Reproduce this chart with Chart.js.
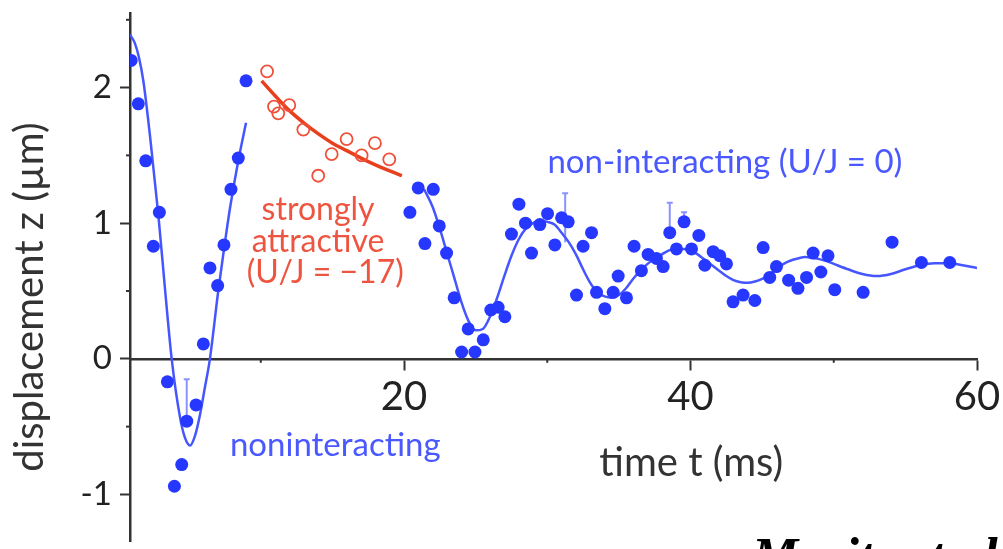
<!DOCTYPE html>
<html>
<head>
<meta charset="utf-8">
<title>displacement z vs time t</title>
<script src="https://cdn.jsdelivr.net/npm/chart.js@4.4.1/dist/chart.umd.min.js"></script>
<style>
  html, body { margin: 0; padding: 0; background: #fff; }
  #wrap { width: 1003px; height: 549px; }
</style>
</head>
<body>
<div id="wrap"><canvas id="c" width="1003" height="549"></canvas></div>
<script>
// 無交互作用的原子雲 (實心點)
const freeT = [0.95, 1.45, 1.97, 2.5, 2.92, 3.48, 3.97, 4.48, 4.83, 5.48, 5.99, 6.45, 6.99, 7.43, 7.92, 8.43, 8.97,
  20.41, 20.99, 21.46, 22.04, 22.46, 22.97, 23.5, 24.02, 24.48, 24.95, 25.53, 26.06, 26.57, 27.04, 27.5, 28.02,
  28.48, 28.9, 29.48, 30.02, 30.53, 31.0, 31.46, 32.04, 32.5, 33.09, 33.44, 34.02, 34.6, 34.95, 35.53, 36.06,
  36.57, 37.04, 37.62, 38.09, 38.55, 39.02, 39.55, 40.07, 40.58, 41.0, 41.58, 42.04, 42.51, 42.97, 43.67, 44.49,
  45.07, 45.53, 46.0, 46.85, 47.5, 48.1, 48.56, 49.1, 49.6, 50.07, 52.05, 54.07, 56.12, 58.1];
const freeZ = [2.20, 1.88, 1.46, 0.83, 1.08, -0.17, -0.94, -0.78, -0.46, -0.34, 0.11, 0.67, 0.54, 0.84, 1.25, 1.48, 2.05,
  1.08, 1.26, 0.85, 1.25, 0.98, 0.78, 0.45, 0.05, 0.22, 0.05, 0.14, 0.36, 0.38, 0.31, 0.92, 1.14,
  1.00, 0.78, 0.99, 1.07, 0.84, 1.04, 1.01, 0.47, 0.83, 0.93, 0.49, 0.37, 0.49, 0.61, 0.45, 0.83,
  0.65, 0.77, 0.74, 0.68, 0.93, 0.81, 1.01, 0.81, 0.91, 0.69, 0.79, 0.76, 0.70, 0.42, 0.47, 0.43,
  0.82, 0.60, 0.68, 0.58, 0.52, 0.60, 0.78, 0.64, 0.76, 0.51, 0.49, 0.86, 0.71, 0.71];

// 強吸引交互作用 U/J = -17 (空心圈)
const attrT = [10.44, 10.92, 11.22, 11.99, 12.97, 14.01, 14.95, 15.99, 17.04, 17.97, 18.97];
const attrZ = [2.12, 1.86, 1.81, 1.87, 1.69, 1.35, 1.51, 1.62, 1.50, 1.59, 1.47];

// 阻尼振盪擬合曲線，第一段
const fitAT = [0.87, 1.2, 1.5, 1.8, 2.27, 2.85, 3.31, 3.78, 4.36, 4.7, 5.06, 5.4, 5.76, 6.1, 6.45, 7.03, 7.5, 7.85, 8.43, 8.97];
const fitAZ = [2.39, 2.33, 2.22, 2.05, 1.64, 1.06, 0.52, 0.0, -0.43, -0.58, -0.64, -0.57, -0.41, -0.21, 0.0, 0.50, 0.86, 1.11, 1.46, 1.74];

// 擬合曲線，第二段
const fitBT = [21.4, 22, 22.5, 23, 23.5, 24, 24.5, 25, 25.5, 26, 26.5, 27, 27.5, 28, 28.5, 29, 29.5, 30, 30.5, 31,
  31.5, 32, 32.5, 33, 33.5, 34, 34.5, 35, 35.5, 36, 36.5, 37, 37.5, 38, 38.5, 39, 39.5, 40, 40.5, 41, 41.5, 42,
  42.5, 43, 43.5, 44, 44.5, 45, 45.5, 46, 46.5, 47, 47.5, 48, 48.5, 49, 49.5, 50, 51, 52, 53, 54, 55, 56, 57, 58, 59, 60];
const fitBZ = [1.25, 1.12, 0.96, 0.78, 0.60, 0.42, 0.28, 0.21, 0.22, 0.31, 0.45, 0.61, 0.76, 0.88, 0.96, 1.00, 1.02, 1.01, 0.99, 0.93,
  0.86, 0.77, 0.66, 0.56, 0.49, 0.46, 0.45, 0.47, 0.52, 0.59, 0.65, 0.70, 0.74, 0.77, 0.80, 0.81, 0.81, 0.80, 0.77, 0.73, 0.69, 0.65,
  0.61, 0.58, 0.565, 0.56, 0.57, 0.59, 0.62, 0.66, 0.70, 0.725, 0.74, 0.75, 0.745, 0.735, 0.72, 0.70, 0.66, 0.625, 0.61, 0.625, 0.66, 0.69, 0.705, 0.705, 0.69, 0.67];

// 吸引交互作用的擬合
const fitRT = [10.06, 11, 12, 13, 14, 15, 16, 17, 18, 19, 19.85];
const fitRZ = [2.05, 1.94, 1.83, 1.74, 1.66, 1.59, 1.535, 1.48, 1.43, 1.385, 1.35];

// 誤差棒
const errT = [4.83, 31.25, 38.55, 39.55];
const errLo = [-0.46, 0.86, 0.93, 1.01];
const errHi = [-0.15, 1.22, 1.15, 1.08];

// 刻度
const xTicks = [10, 20, 30, 40, 50, 60];
const yTicks = [-1, -0.5, 0, 0.5, 1, 1.5, 2, 2.5];

const FONT = 'Lato, "Open Sans", sans-serif';
const BLUE = '#2638ff';
const BLUE_LINE = '#4656ff';
const RED = '#e8401c';
const AXIS = '#333';

const pts = (xs, ys) => xs.map((x, i) => ({x: x, y: ys[i]}));

// 次刻度、誤差棒和文字標註
const decor = {
  id: 'decor',
  beforeDatasetsDraw(chart) {
    const {ctx, scales: {x, y}} = chart;
    ctx.save();
    ctx.strokeStyle = '#8a92ff';
    ctx.lineWidth = 2;
    errT.forEach((t, i) => {
      const px = x.getPixelForValue(t);
      const top = y.getPixelForValue(errHi[i]);
      ctx.beginPath();
      ctx.moveTo(px, y.getPixelForValue(errLo[i]));
      ctx.lineTo(px, top);
      ctx.moveTo(px - 3, top);
      ctx.lineTo(px + 3, top);
      ctx.stroke();
    });
    ctx.restore();
  },
  afterDraw(chart) {
    const {ctx, scales: {x, y}} = chart;
    ctx.save();
    // 次刻度
    ctx.strokeStyle = AXIS;
    ctx.lineWidth = 2;
    const y0 = y.getPixelForValue(0);
    xTicks.filter(v => v % 20 !== 0).forEach(v => {
      const px = x.getPixelForValue(v);
      ctx.beginPath(); ctx.moveTo(px, y0); ctx.lineTo(px, y0 + 4); ctx.stroke();
    });
    yTicks.filter(v => !Number.isInteger(v)).forEach(v => {
      const py = y.getPixelForValue(v);
      ctx.beginPath(); ctx.moveTo(x.left, py); ctx.lineTo(x.left - 4, py); ctx.stroke();
    });

    const label = (text, t, z, color, size) => {
      ctx.fillStyle = color;
      ctx.font = size + 'px ' + FONT;
      ctx.fillText(text, x.getPixelForValue(t), y.getPixelForValue(z));
    };
    ctx.textAlign = 'center';
    ctx.textBaseline = 'middle';
    label('strongly', 14.0, 1.10, '#ee5540', 32);
    label('attractive', 14.0, 0.865, '#ee5540', 32);
    label('(U/J = \u221217)', 14.5, 0.633, '#ee5540', 32);
    label('non-interacting (U/J = 0)', 42.4, 1.447, '#4a58ff', 33);
    label('noninteracting', 15.2, -0.64, '#4a58ff', 33);
    label('time t (ms)', 40.05, -0.77, AXIS, 40);

    // 縱軸標題
    ctx.save();
    ctx.translate(30, 297);
    ctx.rotate(-Math.PI / 2);
    ctx.fillStyle = AXIS;
    ctx.font = '40px ' + FONT;
    ctx.fillText('displacement z (\u00b5m)', 0, 0);
    ctx.restore();

    // 出處
    ctx.textAlign = 'left';
    ctx.textBaseline = 'alphabetic';
    ctx.fillStyle = '#000';
    ctx.font = 'italic bold 52px "Liberation Serif", serif';
    ctx.fillText('Moritz et al.', 752, 574);
    ctx.restore();
  }
};

new Chart(document.getElementById('c'), {
  type: 'scatter',
  data: {
    datasets: [
      {data: pts(freeT, freeZ), pointRadius: 6.5, pointBackgroundColor: BLUE, pointBorderWidth: 0, showLine: false},
      {data: pts(fitAT, fitAZ), showLine: true, borderColor: BLUE_LINE, borderWidth: 2.5, pointRadius: 0, cubicInterpolationMode: 'monotone'},
      {data: pts(fitBT, fitBZ), showLine: true, borderColor: BLUE_LINE, borderWidth: 2.5, pointRadius: 0, cubicInterpolationMode: 'monotone'},
      {data: pts(attrT, attrZ), pointRadius: 6, pointBackgroundColor: 'rgba(255,255,255,0)', pointBorderColor: '#f0503a', pointBorderWidth: 1.8, showLine: false},
      {data: pts(fitRT, fitRZ), showLine: true, borderColor: RED, borderWidth: 3.5, pointRadius: 0, cubicInterpolationMode: 'monotone'}
    ]
  },
  options: {
    responsive: false,
    animation: false,
    devicePixelRatio: 1,
    layout: {padding: {top: 13, right: 26, bottom: 0, left: 0}},
    plugins: {legend: {display: false}, tooltip: {enabled: false}},
    scales: {
      x: {
        type: 'linear',
        min: 0.87,
        max: 60,
        position: {y: 0},
        afterBuildTicks: s => { s.ticks = xTicks.map(v => ({value: v})); },
        afterFit: s => { s.paddingLeft = 0; s.paddingRight = 0; },
        grid: {drawOnChartArea: false, tickLength: 10, tickWidth: 2,
          tickColor: c => (c.tick && c.tick.value % 20 === 0) ? AXIS : 'rgba(0,0,0,0)'},
        border: {color: AXIS, width: 2.5},
        ticks: {color: '#222', padding: 4, font: {family: FONT, size: 40},
          callback: v => (v % 20 === 0 ? String(v) : '')}
      },
      y: {
        type: 'linear',
        min: -1.345,
        max: 2.55,
        afterBuildTicks: s => { s.ticks = yTicks.map(v => ({value: v})); },
        afterFit: s => { s.width = 130; s.paddingTop = 0; s.paddingBottom = 0; },
        grid: {drawOnChartArea: false, tickLength: 10, tickWidth: 2,
          tickColor: c => (c.tick && Number.isInteger(c.tick.value)) ? AXIS : 'rgba(0,0,0,0)'},
        border: {color: AXIS, width: 2.5},
        ticks: {color: '#222', padding: 8, font: {family: FONT, size: 33},
          callback: v => (Number.isInteger(v) ? String(v) : '')}
      }
    }
  },
  plugins: [decor]
});
</script>
</body>
</html>
